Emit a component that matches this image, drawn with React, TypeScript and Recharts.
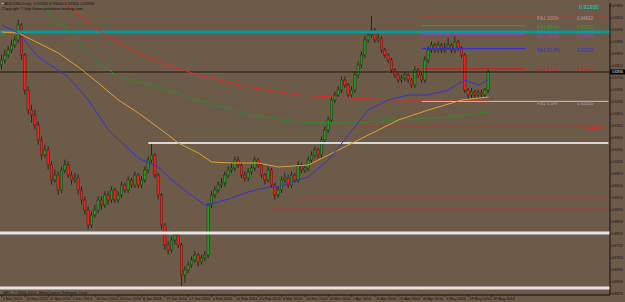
import { ComposedChart, Bar, Line, XAxis, YAxis, ReferenceLine } from 'recharts';

// daily candles
const opens = [
  0.9314, 0.9329, 0.9344, 0.9359, 0.9374, 0.9389, 0.9434, 0.9344, 0.9239, 0.9179,
  0.9164, 0.9134, 0.9089, 0.9044, 0.9059, 0.9014, 0.8969, 0.8984, 0.8939, 0.8999,
  0.9014, 0.8984, 0.8969, 0.8975, 0.8939, 0.8909, 0.8879, 0.8834, 0.8864, 0.8879,
  0.8909, 0.8894, 0.8924, 0.8909, 0.8939, 0.8909, 0.8924, 0.8954, 0.8939, 0.8969,
  0.8954, 0.8984, 0.8954, 0.8969, 0.8999, 0.9029, 0.9044, 0.8984, 0.8924, 0.8834,
  0.8774, 0.8759, 0.8789, 0.8804, 0.8774, 0.8684, 0.8699, 0.8714, 0.8729, 0.8744,
  0.8723, 0.8735, 0.8744, 0.8894, 0.8924, 0.8939, 0.8954, 0.8960, 0.8984, 0.8999,
  0.9005, 0.9029, 0.9014, 0.8984, 0.8975, 0.8993, 0.9005, 0.9029, 0.9014, 0.8984,
  0.8969, 0.8999, 0.8954, 0.8924, 0.8939, 0.8969, 0.8975, 0.8954, 0.8984, 0.8969,
  0.9014, 0.8999, 0.9005, 0.9029, 0.9044, 0.9059, 0.9044, 0.9089, 0.9119, 0.9149,
  0.9209, 0.9224, 0.9239, 0.9269, 0.9254, 0.9224, 0.9239, 0.9284, 0.9314, 0.9344,
  0.9389, 0.9404, 0.9419, 0.9389, 0.9395, 0.9359, 0.9344, 0.9329, 0.9299, 0.9284,
  0.9269, 0.9275, 0.9284, 0.9269, 0.9254, 0.9299, 0.9284, 0.9269, 0.9329, 0.9359,
  0.9374, 0.9359, 0.9374, 0.9359, 0.9365, 0.9374, 0.9359, 0.9383, 0.9365, 0.9344,
  0.9239, 0.9224, 0.9233, 0.9224, 0.9230, 0.9224, 0.9239,
];
const highs = [
  0.9345, 0.9360, 0.9372, 0.9390, 0.9402, 0.9450, 0.9440, 0.9350, 0.9250, 0.9195,
  0.9180, 0.9145, 0.9100, 0.9075, 0.9070, 0.9025, 0.9000, 0.8995, 0.9010, 0.9030,
  0.9025, 0.8995, 0.8990, 0.8985, 0.8950, 0.8920, 0.8890, 0.8875, 0.8895, 0.8920,
  0.8920, 0.8935, 0.8935, 0.8950, 0.8945, 0.8935, 0.8965, 0.8960, 0.8980, 0.8975,
  0.8995, 0.8990, 0.8980, 0.9010, 0.9040, 0.9080, 0.9050, 0.8990, 0.8930, 0.8840,
  0.8785, 0.8800, 0.8815, 0.8810, 0.8780, 0.8710, 0.8725, 0.8740, 0.8755, 0.8750,
  0.8745, 0.8755, 0.8900, 0.8935, 0.8950, 0.8965, 0.8975, 0.8995, 0.9010, 0.9020,
  0.9040, 0.9040, 0.9020, 0.8995, 0.9005, 0.9015, 0.9040, 0.9035, 0.9020, 0.8990,
  0.9010, 0.9005, 0.8960, 0.8950, 0.8980, 0.8990, 0.8985, 0.8995, 0.8990, 0.9025,
  0.9020, 0.9015, 0.9040, 0.9055, 0.9070, 0.9065, 0.9100, 0.9130, 0.9160, 0.9220,
  0.9235, 0.9250, 0.9280, 0.9280, 0.9260, 0.9250, 0.9295, 0.9325, 0.9355, 0.9400,
  0.9415, 0.9461, 0.9425, 0.9410, 0.9400, 0.9365, 0.9350, 0.9335, 0.9305, 0.9290,
  0.9285, 0.9295, 0.9290, 0.9275, 0.9310, 0.9305, 0.9290, 0.9340, 0.9370, 0.9385,
  0.9380, 0.9385, 0.9380, 0.9380, 0.9395, 0.9380, 0.9400, 0.9390, 0.9370, 0.9350,
  0.9245, 0.9245, 0.9240, 0.9240, 0.9240, 0.9245, 0.9300,
];
const lows = [
  0.9300, 0.9318, 0.9335, 0.9350, 0.9365, 0.9380, 0.9330, 0.9225, 0.9165, 0.9140,
  0.9120, 0.9075, 0.9030, 0.9035, 0.9000, 0.8955, 0.8960, 0.8925, 0.8930, 0.8990,
  0.8975, 0.8955, 0.8960, 0.8925, 0.8895, 0.8865, 0.8820, 0.8825, 0.8855, 0.8870,
  0.8880, 0.8885, 0.8895, 0.8900, 0.8900, 0.8900, 0.8915, 0.8930, 0.8930, 0.8945,
  0.8945, 0.8945, 0.8945, 0.8960, 0.8990, 0.9020, 0.8975, 0.8910, 0.8820, 0.8760,
  0.8745, 0.8750, 0.8775, 0.8765, 0.8645, 0.8660, 0.8690, 0.8705, 0.8720, 0.8710,
  0.8715, 0.8725, 0.8735, 0.8885, 0.8915, 0.8930, 0.8945, 0.8950, 0.8975, 0.8990,
  0.8995, 0.9005, 0.8975, 0.8965, 0.8965, 0.8985, 0.8995, 0.9005, 0.8975, 0.8955,
  0.8960, 0.8945, 0.8910, 0.8915, 0.8930, 0.8960, 0.8945, 0.8945, 0.8960, 0.8960,
  0.8990, 0.8990, 0.8995, 0.9020, 0.9035, 0.9035, 0.9035, 0.9080, 0.9110, 0.9140,
  0.9200, 0.9215, 0.9230, 0.9245, 0.9215, 0.9215, 0.9230, 0.9275, 0.9305, 0.9335,
  0.9380, 0.9395, 0.9380, 0.9380, 0.9350, 0.9335, 0.9320, 0.9290, 0.9275, 0.9260,
  0.9260, 0.9265, 0.9260, 0.9245, 0.9245, 0.9275, 0.9260, 0.9260, 0.9320, 0.9350,
  0.9350, 0.9350, 0.9350, 0.9350, 0.9360, 0.9350, 0.9350, 0.9355, 0.9335, 0.9230,
  0.9210, 0.9215, 0.9215, 0.9215, 0.9215, 0.9215, 0.9230,
];
const closes = [
  0.9329, 0.9344, 0.9359, 0.9374, 0.9389, 0.9434, 0.9344, 0.9239, 0.9179, 0.9164,
  0.9134, 0.9089, 0.9044, 0.9059, 0.9014, 0.8969, 0.8984, 0.8939, 0.8999, 0.9014,
  0.8984, 0.8969, 0.8975, 0.8939, 0.8909, 0.8879, 0.8834, 0.8864, 0.8879, 0.8909,
  0.8894, 0.8924, 0.8909, 0.8939, 0.8909, 0.8924, 0.8954, 0.8939, 0.8969, 0.8954,
  0.8984, 0.8954, 0.8969, 0.8999, 0.9029, 0.9044, 0.8984, 0.8924, 0.8834, 0.8774,
  0.8759, 0.8789, 0.8804, 0.8774, 0.8684, 0.8699, 0.8714, 0.8729, 0.8744, 0.8723,
  0.8735, 0.8744, 0.8894, 0.8924, 0.8939, 0.8954, 0.8960, 0.8984, 0.8999, 0.9005,
  0.9029, 0.9014, 0.8984, 0.8975, 0.8993, 0.9005, 0.9029, 0.9014, 0.8984, 0.8969,
  0.8999, 0.8954, 0.8924, 0.8939, 0.8969, 0.8975, 0.8954, 0.8984, 0.8969, 0.9014,
  0.8999, 0.9005, 0.9029, 0.9044, 0.9059, 0.9044, 0.9089, 0.9119, 0.9149, 0.9209,
  0.9224, 0.9239, 0.9269, 0.9254, 0.9224, 0.9239, 0.9284, 0.9314, 0.9344, 0.9389,
  0.9404, 0.9419, 0.9389, 0.9395, 0.9359, 0.9344, 0.9329, 0.9299, 0.9284, 0.9269,
  0.9275, 0.9284, 0.9269, 0.9254, 0.9299, 0.9284, 0.9269, 0.9329, 0.9359, 0.9374,
  0.9359, 0.9374, 0.9359, 0.9365, 0.9374, 0.9359, 0.9383, 0.9365, 0.9344, 0.9239,
  0.9224, 0.9233, 0.9224, 0.9230, 0.9224, 0.9239, 0.9293,
];

// moving averages, read at sample bars
const blueAt = [0, 5, 11, 20, 26, 32, 41, 47, 51, 56, 61, 65, 69, 74, 80, 83, 89, 92, 98, 104, 110, 116, 122, 128, 134, 139, 143, 146];
const blueVals = [0.9434, 0.941, 0.9338, 0.9278, 0.9209, 0.9119, 0.9035, 0.9008, 0.8969, 0.893, 0.8894, 0.8903, 0.8915, 0.8933, 0.8948, 0.8948, 0.8969, 0.8978, 0.9029, 0.9104, 0.9179, 0.9209, 0.9224, 0.9224, 0.9239, 0.9269, 0.9254, 0.9269];
const orangeAt = [0, 5, 11, 17, 23, 29, 35, 41, 48, 53, 59, 63, 69, 77, 83, 92, 98, 107, 119, 128, 138, 146];
const orangeVals = [0.9413, 0.941, 0.938, 0.935, 0.9308, 0.926, 0.9209, 0.917, 0.9119, 0.908, 0.905, 0.9023, 0.902, 0.902, 0.9008, 0.9014, 0.9044, 0.9089, 0.9149, 0.9179, 0.9209, 0.9218];
const greenAt = [9, 20, 27, 35, 47, 59, 74, 89, 104, 119, 134, 146];
const greenVals = [0.9515, 0.9419, 0.9338, 0.9278, 0.9248, 0.9209, 0.9164, 0.9143, 0.914, 0.9149, 0.9158, 0.9173];
const redAt = [17, 29, 39, 47, 59, 74, 89, 104, 119, 134, 146];
const redVals = [0.9515, 0.9419, 0.9359, 0.9323, 0.9284, 0.9248, 0.9224, 0.9215, 0.9209, 0.9209, 0.9209];

const dateAt = [0, 7, 14, 21, 28, 35, 42, 49, 56, 63, 70, 77, 84, 91, 98, 105, 112, 119, 126, 133, 140, 147];
const dateLabels = [
  '1 Nov 2013', '12 Nov 2013', '21 Nov 2013', '2 Dec 2013', '16 Dec 2013', '26 Dec 2013',
  '8 Jan 2014', '17 Jan 2014', '27 Jan 2014', '5 Feb 2014', '14 Feb 2014', '25 Feb 2014',
  '6 Mar 2014', '14 Mar 2014', '24 Mar 2014', '2 Apr 2014', '11 Apr 2014', '22 Apr 2014',
  '30 Apr 2014', '9 May 2014', '19 May 2014', '28 May 2014',
];
const priceTicks = [
  0.8627, 0.8663, 0.8699, 0.8735, 0.8771, 0.8807, 0.8843, 0.8879, 0.8915, 0.8951,
  0.8987, 0.9023, 0.9059, 0.9095, 0.9131, 0.9167, 0.9203, 0.9239, 0.9275, 0.9311,
  0.9347, 0.9383, 0.9419, 0.9455, 0.9491,
];
const fibNames = ['Fib1 100%', 'Fib1 88.6%', 'Fib1 78.6%', 'Fib1 61.8%', 'Fib1 38.2%', 'Fib1 0.0%'];
const fibLevels = [0.9461, 0.9432, 0.9406, 0.9363, 0.9303, 0.9205];
const fibLineColors = ['#d03030', '#3f9a2f', '#a040c0', '#3030d0', '#c02020', '#c8c4bc'];
const fibTextColors = ['#a8a095', '#3f9a2f', '#a040c0', '#3030d0', '#d02020', '#a8a095'];

const lastPrice = 0.9293;
const SLOTS = 183;
const END = SLOTS - 1;
const BG = '#6c5b49';
const FONT = 'Liberation Sans, Arial';

const data = Array.from({ length: SLOTS }, (_, i) => {
  const row: any = { idx: i };
  if (i < closes.length) {
    row.o = opens[i];
    row.h = highs[i];
    row.l = lows[i];
    row.c = closes[i];
    row.range = [lows[i], highs[i]];
  }
  return row;
});
const put = (at: number[], vals: number[], key: string) =>
  at.forEach((ix, k) => {
    data[ix][key] = vals[k];
  });
put(blueAt, blueVals, 'blue');
put(orangeAt, orangeVals, 'orange');
put(greenAt, greenVals, 'green');
put(redAt, redVals, 'red');

const Candle = (props: any) => {
  const { x, y, width, height, payload } = props;
  if (!payload || payload.h == null) return null;
  const { o, h, l, c } = payload;
  const k = height / (h - l || 1e-9);
  const cx = x + width / 2;
  const top = y + (h - Math.max(o, c)) * k;
  const bot = y + (h - Math.min(o, c)) * k;
  const up = c >= o;
  return (
    <g>
      <line x1={cx} x2={cx} y1={y} y2={y + height} stroke="#1e1a14" strokeWidth={0.8} />
      <rect
        x={cx - 1.2}
        y={top}
        width={2.4}
        height={Math.max(bot - top, 0.8)}
        fill={up ? '#1f9a1f' : '#ff1a1a'}
        stroke="#1e1a14"
        strokeWidth={0.4}
      />
    </g>
  );
};

const YTick = (props: any) => {
  const { x, y, payload } = props;
  return (
    <g>
      <line x1={x} x2={x + 1.5} y1={y} y2={y} stroke="#111" strokeWidth={0.6} />
      <text x={x + 2} y={y + 1.1} fontSize={3} fill="#111" fontFamily={FONT}>
        {payload.value.toFixed(5)}
      </text>
    </g>
  );
};

const XTick = (props: any) => {
  const { x, y, payload } = props;
  const k = dateAt.indexOf(payload.value);
  return (
    <g>
      <line x1={x} x2={x} y1={y} y2={y + 2} stroke="#111" strokeWidth={0.6} />
      <text x={x + 1} y={y + 5} fontSize={3.8} fill="#111" fontFamily={FONT}>
        {k >= 0 ? dateLabels[k] : ''}
      </text>
    </g>
  );
};

const PriceBox = (props: any) => {
  const { viewBox } = props;
  const bx = viewBox.x + viewBox.width;
  return (
    <g>
      <rect x={bx} y={viewBox.y - 2.5} width={15} height={5} fill="#000" />
      <text x={bx + 2} y={viewBox.y + 1.1} fontSize={3} fill="#fff" fontFamily={FONT}>
        {lastPrice.toFixed(5)}
      </text>
    </g>
  );
};

const fibLabel = (k: number) => (props: any) => {
  const { viewBox } = props;
  return (
    <g fontFamily={FONT} fontSize={4.5} fill={fibTextColors[k]}>
      <text x={537} y={viewBox.y + 3.5}>{fibNames[k]}</text>
      <text x={577} y={viewBox.y + 3.5}>{fibLevels[k].toFixed(5)}</text>
    </g>
  );
};

const RedTag = (props: any) => (
  <text x={585} y={props.viewBox.y + 1.5} fontSize={4.5} fill="#e02020" fontFamily={FONT}>
    0.91280
  </text>
);

export default function App() {
  return (
    <div style={{ position: 'absolute', left: 0, top: 0, width: 625, height: 302, background: BG, overflow: 'hidden' }}>
      <ComposedChart
        width={625}
        height={302}
        data={data}
        margin={{ top: 3, right: 0, bottom: 0, left: 0 }}
        barCategoryGap={0}
      >
        <XAxis
          dataKey="idx"
          type="category"
          ticks={dateAt}
          interval={0}
          tick={<XTick />}
          tickLine={false}
          tickSize={0}
          tickMargin={0}
          axisLine={{ stroke: '#111' }}
          height={7}
        />
        <YAxis
          orientation="right"
          type="number"
          domain={[0.8624, 0.95]}
          allowDataOverflow
          ticks={priceTicks}
          interval={0}
          tick={<YTick />}
          tickLine={false}
          tickSize={0}
          tickMargin={0}
          axisLine={{ stroke: '#111' }}
          width={15}
        />
        {/* support / resistance levels */}
        <ReferenceLine y={0.9413} stroke="#0a9a9a" strokeWidth={3} />
        <ReferenceLine y={0.881} stroke="#e4e4e4" strokeWidth={3} />
        <ReferenceLine y={0.8645} stroke="#e4e4e4" strokeWidth={3} />
        <ReferenceLine segment={[{ x: 44, y: 0.908 }, { x: END, y: 0.908 }]} stroke="#d6d6d6" strokeWidth={2} />
        <ReferenceLine
          segment={[{ x: 106, y: 0.9128 }, { x: END, y: 0.9128 }]}
          stroke="#e02020"
          strokeDasharray="2 2"
          label={<RedTag />}
        />
        <ReferenceLine segment={[{ x: 88, y: 0.8915 }, { x: END, y: 0.8915 }]} stroke="#e02020" strokeDasharray="2 2" />
        <ReferenceLine segment={[{ x: 81, y: 0.8882 }, { x: END, y: 0.8882 }]} stroke="#e02020" strokeDasharray="2 2" />
        {fibLevels.map((lv, k) => (
          <ReferenceLine
            key={k}
            segment={[{ x: 126, y: lv }, { x: k === 0 || k === 5 ? END : 157, y: lv }]}
            stroke={fibLineColors[k]}
            strokeDasharray={k === 0 ? '2 2' : undefined}
            label={fibLabel(k)}
          />
        ))}
        <ReferenceLine y={lastPrice} stroke="#231c14" strokeWidth={1} label={<PriceBox />} />

        <Line dataKey="red" stroke="#e02a2a" strokeWidth={1} dot={false} connectNulls isAnimationActive={false} />
        <Line dataKey="green" stroke="#2f8a2f" strokeWidth={1} dot={false} connectNulls isAnimationActive={false} />
        <Line dataKey="orange" stroke="#e0a030" strokeWidth={1} dot={false} connectNulls isAnimationActive={false} />
        <Line dataKey="blue" stroke="#3434d0" strokeWidth={1} dot={false} connectNulls isAnimationActive={false} />
        <Bar dataKey="range" shape={<Candle />} isAnimationActive={false} />
      </ComposedChart>
      <div style={{ position: 'absolute', left: 2, top: 1, fontFamily: FONT, fontSize: 4, color: '#111', lineHeight: '5px', whiteSpace: 'pre' }}>
        <div><span style={{ color: '#fff' }}>▪</span> AUDUSD,Daily  0.92390 0.93000 0.92300 0.92930</div>
        <div>Copyright © http://www.pointzero-trading.com</div>
      </div>
      <div style={{ position: 'absolute', left: 579, top: 4, fontFamily: FONT, fontSize: 5.5, color: '#10d0d0' }}>
        0.92930
      </div>
      <div style={{ position: 'absolute', left: 3, top: 290, fontFamily: FONT, fontSize: 4, color: '#111' }}>
        MFL, © 2004-2014, MetaQuotes Software Corp.
      </div>
    </div>
  );
}
